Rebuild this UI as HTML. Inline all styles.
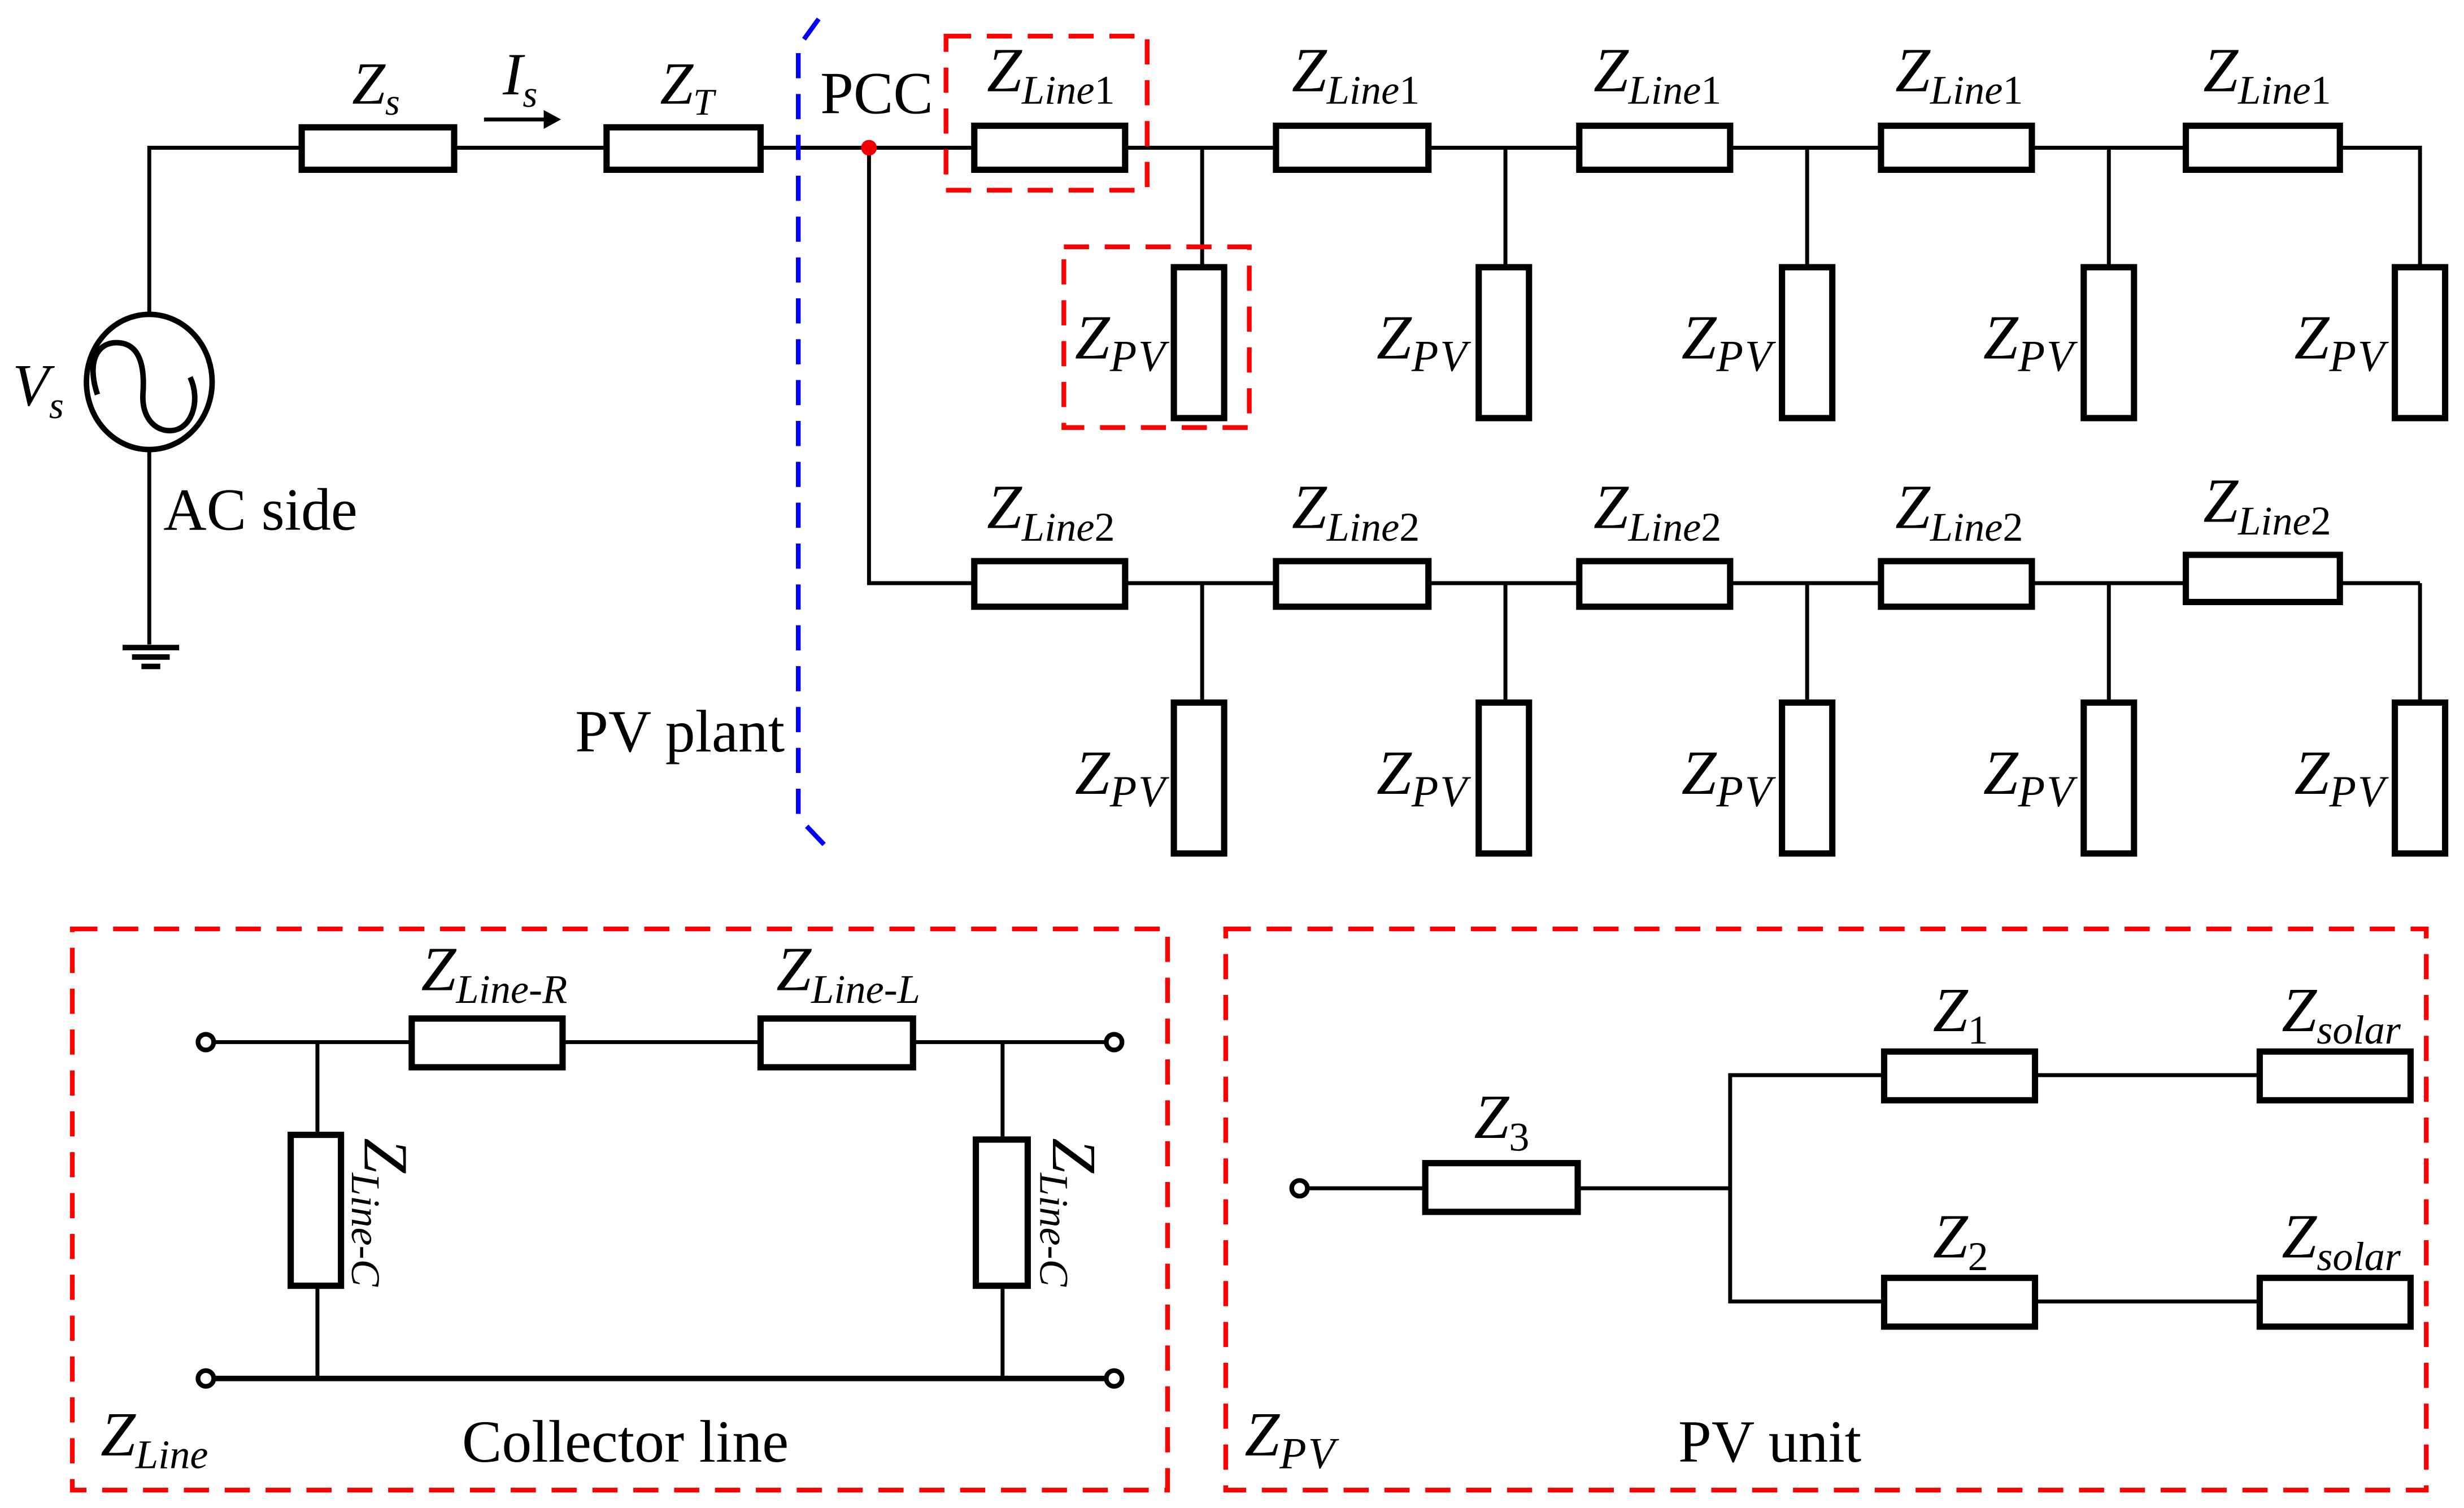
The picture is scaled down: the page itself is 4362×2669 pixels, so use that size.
<!DOCTYPE html>
<html><head><style>html,body{margin:0;padding:0;background:#fff}svg{display:block}</style></head>
<body>
<svg width="4362" height="2669" viewBox="0 0 1568 959.4" preserveAspectRatio="none" xmlns="http://www.w3.org/2000/svg" font-family="'Liberation Serif', serif">
<g stroke="#000" stroke-width="2.5" fill="none">
<polyline points="95,200 95,94 192,94"/>
<line x1="289" y1="94" x2="386" y2="94"/>
<line x1="484" y1="94" x2="1540" y2="94"/>
<polyline points="1489,94 1540,94 1540,170"/>
<line x1="95" y1="286" x2="95" y2="410"/>
<ellipse cx="95" cy="243" rx="40" ry="43" stroke-width="3.5"/>
<path d="M62,251 C55,230 62,218 74,218 C90,218 92,235 91,250 C90,265 98,274 108,274 C122,274 128,255 121,240" stroke-width="3.5"/>
<line x1="78" y1="412" x2="114" y2="412" stroke-width="3.5"/>
<line x1="84" y1="418" x2="108" y2="418" stroke-width="3.5"/>
<line x1="90" y1="424" x2="102" y2="424" stroke-width="3.5"/>
<line x1="308" y1="76" x2="348" y2="76"/>
<polyline points="553,94 553,371 1540,371"/>
<line x1="1540" y1="371" x2="1540" y2="447"/>
<line x1="765" y1="94" x2="765" y2="170"/><line x1="958" y1="94" x2="958" y2="170"/>
<line x1="1150" y1="94" x2="1150" y2="170"/><line x1="1342" y1="94" x2="1342" y2="170"/>
<line x1="765" y1="371" x2="765" y2="447"/><line x1="958" y1="371" x2="958" y2="447"/>
<line x1="1150" y1="371" x2="1150" y2="447"/><line x1="1342" y1="371" x2="1342" y2="447"/>
</g>
<polygon points="346,70 357,76 346,82" fill="#000"/>
<g stroke="#000" stroke-width="4" fill="#fff">
<rect x="192" y="81" width="97" height="27"/><rect x="386" y="81" width="98" height="27"/>
<rect x="620" y="80" width="96" height="28"/><rect x="812" y="80" width="97" height="28"/>
<rect x="1005" y="80" width="96" height="28"/><rect x="1197" y="80" width="96" height="28"/>
<rect x="1391" y="80" width="98" height="28"/>
<rect x="620" y="357" width="96" height="29"/><rect x="812" y="357" width="97" height="29"/>
<rect x="1005" y="357" width="96" height="29"/><rect x="1197" y="357" width="96" height="29"/>
<rect x="1391" y="353" width="98" height="30"/>
<rect x="747" y="170" width="32" height="96"/><rect x="941" y="170" width="32" height="96"/>
<rect x="1134" y="170" width="32" height="96"/><rect x="1326" y="170" width="32" height="96"/>
<rect x="1524" y="170" width="32" height="96"/>
<rect x="747" y="447" width="32" height="96"/><rect x="941" y="447" width="32" height="96"/>
<rect x="1134" y="447" width="32" height="96"/><rect x="1326" y="447" width="32" height="96"/>
<rect x="1524" y="447" width="32" height="96"/>
</g>
<circle cx="553" cy="94" r="5" fill="#e00"/>
<polyline points="521,12 508,30 508,520 527,540" fill="none" stroke="#00f" stroke-width="3" stroke-dasharray="16,10"/>
<g fill="none" stroke="#f00" stroke-width="3" stroke-dasharray="16,10">
<rect x="602" y="23" width="128" height="98"/>
<rect x="677" y="157" width="118" height="115"/>
<rect x="46" y="591" width="697" height="357"/>
<rect x="780" y="591" width="764" height="357"/>
</g>
<g stroke="#000" stroke-width="2.5" fill="none">
<line x1="136" y1="663" x2="262" y2="663"/><line x1="358" y1="663" x2="484" y2="663"/><line x1="581" y1="663" x2="704" y2="663"/>
<line x1="202" y1="663" x2="202" y2="721"/><line x1="202" y1="818" x2="202" y2="877"/>
<line x1="638" y1="663" x2="638" y2="723"/><line x1="638" y1="818" x2="638" y2="877"/>
<line x1="136" y1="877" x2="704" y2="877" stroke-width="3.5"/>
<line x1="832" y1="756" x2="907" y2="756"/><line x1="1004" y1="756" x2="1101" y2="756"/>
<polyline points="1199,684 1101,684 1101,828 1199,828"/>
<line x1="1295" y1="684" x2="1438" y2="684"/><line x1="1295" y1="828" x2="1438" y2="828"/>
</g>
<g stroke="#000" stroke-width="3" fill="#fff">
<circle cx="131" cy="663" r="5"/><circle cx="709" cy="663" r="5"/>
<circle cx="131" cy="877" r="5"/><circle cx="709" cy="877" r="5"/>
<circle cx="827" cy="756" r="5"/>
</g>
<g stroke="#000" stroke-width="4" fill="#fff">
<rect x="262" y="648" width="96" height="31"/><rect x="484" y="648" width="97" height="31"/>
<rect x="185" y="722" width="32" height="96"/><rect x="621" y="725" width="33" height="93"/>
<rect x="907" y="740" width="97" height="31"/>
<rect x="1199" y="669" width="96" height="31"/><rect x="1438" y="669" width="96" height="31"/>
<rect x="1199" y="813" width="96" height="31"/><rect x="1438" y="813" width="96" height="31"/>
</g>
<g fill="#000" font-size="38">
<text x="224" y="66" font-style="italic">Z<tspan font-size="24" dy="7">s</tspan></text>
<text x="320" y="60" font-style="italic">I<tspan font-size="24" dy="8">s</tspan></text>
<text x="420" y="66" font-style="italic">Z<tspan font-size="24" dy="7">T</tspan></text>
<text x="522" y="72">PCC</text>
<text x="8" y="258" font-style="italic">V<tspan font-size="24" dy="8">s</tspan></text>
<text x="104" y="337">AC side</text>
<text x="366" y="478">PV plant</text>
</g>
<g fill="#000" font-size="40" font-style="italic">
<text x="628" y="58">Z<tspan font-size="26" dy="8">Line</tspan><tspan font-size="26" font-style="normal">1</tspan></text>
<text x="822" y="58">Z<tspan font-size="26" dy="8">Line</tspan><tspan font-size="26" font-style="normal">1</tspan></text>
<text x="1014" y="58">Z<tspan font-size="26" dy="8">Line</tspan><tspan font-size="26" font-style="normal">1</tspan></text>
<text x="1206" y="58">Z<tspan font-size="26" dy="8">Line</tspan><tspan font-size="26" font-style="normal">1</tspan></text>
<text x="1402" y="58">Z<tspan font-size="26" dy="8">Line</tspan><tspan font-size="26" font-style="normal">1</tspan></text>
<text x="628" y="336">Z<tspan font-size="26" dy="8">Line</tspan><tspan font-size="26" font-style="normal">2</tspan></text>
<text x="822" y="336">Z<tspan font-size="26" dy="8">Line</tspan><tspan font-size="26" font-style="normal">2</tspan></text>
<text x="1014" y="336">Z<tspan font-size="26" dy="8">Line</tspan><tspan font-size="26" font-style="normal">2</tspan></text>
<text x="1206" y="336">Z<tspan font-size="26" dy="8">Line</tspan><tspan font-size="26" font-style="normal">2</tspan></text>
<text x="1402" y="332">Z<tspan font-size="26" dy="8">Line</tspan><tspan font-size="26" font-style="normal">2</tspan></text>
<text x="684" y="228">Z<tspan font-size="28" dy="8" letter-spacing="1">PV</tspan></text>
<text x="876" y="228">Z<tspan font-size="28" dy="8" letter-spacing="1">PV</tspan></text>
<text x="1070" y="228">Z<tspan font-size="28" dy="8" letter-spacing="1">PV</tspan></text>
<text x="1262" y="228">Z<tspan font-size="28" dy="8" letter-spacing="1">PV</tspan></text>
<text x="1460" y="228">Z<tspan font-size="28" dy="8" letter-spacing="1">PV</tspan></text>
<text x="684" y="505">Z<tspan font-size="28" dy="8" letter-spacing="1">PV</tspan></text>
<text x="876" y="505">Z<tspan font-size="28" dy="8" letter-spacing="1">PV</tspan></text>
<text x="1070" y="505">Z<tspan font-size="28" dy="8" letter-spacing="1">PV</tspan></text>
<text x="1262" y="505">Z<tspan font-size="28" dy="8" letter-spacing="1">PV</tspan></text>
<text x="1460" y="505">Z<tspan font-size="28" dy="8" letter-spacing="1">PV</tspan></text>
<text x="268" y="630">Z<tspan font-size="26" dy="8">Line-R</tspan></text>
<text x="494" y="630">Z<tspan font-size="26" dy="8">Line-L</tspan></text>
<text transform="translate(232,724) rotate(90)">Z<tspan font-size="26" dy="8">Line-C</tspan></text>
<text transform="translate(670,724) rotate(90)">Z<tspan font-size="26" dy="8">Line-C</tspan></text>
<text x="64" y="926">Z<tspan font-size="26" dy="8">Line</tspan></text>
<text x="792" y="926">Z<tspan font-size="28" dy="8" letter-spacing="1">PV</tspan></text>
<text x="938" y="724">Z<tspan font-size="26" dy="8" font-style="normal">3</tspan></text>
<text x="1230" y="656">Z<tspan font-size="26" dy="8" font-style="normal">1</tspan></text>
<text x="1230" y="800">Z<tspan font-size="26" dy="8" font-style="normal">2</tspan></text>
<text x="1452" y="656">Z<tspan font-size="26" dy="8">solar</tspan></text>
<text x="1452" y="800">Z<tspan font-size="26" dy="8">solar</tspan></text>
</g>
<g fill="#000" font-size="38">
<text x="294" y="930">Collector line</text>
<text x="1068" y="930">PV unit</text>
</g>
</svg>
</body></html>
